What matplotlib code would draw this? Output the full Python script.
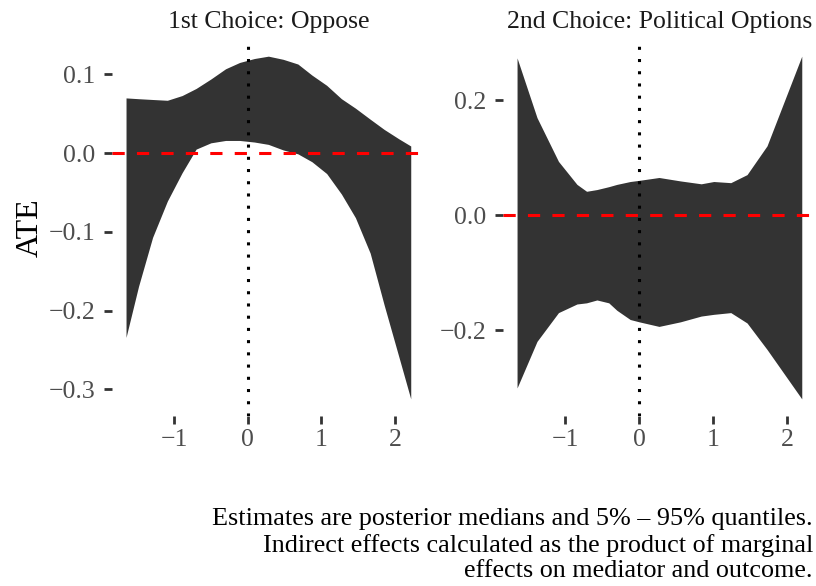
import numpy as np
import matplotlib
matplotlib.use("Agg")
import matplotlib.pyplot as plt

plt.rcParams['font.family'] = ['Liberation Serif', 'DejaVu Serif']

# posterior 5% / 95% bands of the indirect effect, by mediator value
panel_titles = ["1st Choice: Oppose", "2nd Choice: Political Options"]

oppose_x = [-1.65, -1.48, -1.29, -1.09, -0.89, -0.70, -0.50, -0.30, -0.11, 0.09, 0.28,
            0.48, 0.68, 0.87, 1.07, 1.27, 1.46, 1.66, 1.85, 2.05, 2.21]
oppose_hi = [0.070, 0.069, 0.068, 0.067, 0.073, 0.082, 0.094, 0.107, 0.115, 0.120, 0.123,
             0.119, 0.113, 0.099, 0.086, 0.069, 0.057, 0.043, 0.030, 0.018, 0.009]
oppose_lo = [-0.234, -0.169, -0.107, -0.061, -0.025, 0.005, 0.013, 0.016, 0.016, 0.014, 0.011,
             0.004, -0.001, -0.011, -0.026, -0.052, -0.082, -0.127, -0.193, -0.259, -0.312]

polit_x = [-1.65, -1.38, -1.09, -0.84, -0.71, -0.57, -0.41, -0.30, -0.12, 0.0, 0.27,
           0.56, 0.84, 1.01, 1.24, 1.46, 1.73, 2.20]
polit_hi = [0.274, 0.170, 0.094, 0.054, 0.042, 0.045, 0.050, 0.054, 0.059, 0.061, 0.066,
            0.060, 0.055, 0.059, 0.057, 0.071, 0.121, 0.277]
polit_lo = [-0.300, -0.219, -0.169, -0.154, -0.152, -0.147, -0.152, -0.165, -0.181, -0.185, -0.193,
            -0.185, -0.175, -0.172, -0.169, -0.187, -0.233, -0.319]

panels = [(oppose_x, oppose_lo, oppose_hi, [-0.3, -0.2, -0.1, 0.0, 0.1]),
          (polit_x, polit_lo, polit_hi, [-0.2, 0.0, 0.2])]
xticks = [-1, 0, 1, 2]

caption = ("Estimates are posterior medians and 5% \u2013 95% quantiles.\n"
           "Indirect effects calculated as the product of marginal\n"
           "effects on mediator and outcome.")

fig = plt.figure(figsize=(8.16, 5.86), dpi=100)
lefts = [0.137, 0.6162]
for i, (x, lo, hi, yt) in enumerate(panels):
    ax = fig.add_axes([lefts[i], 0.2901, 0.3838, 0.6433])
    ax.fill_between(x, lo, hi, color="#333333", linewidth=0, zorder=1)
    ax.margins(x=0.05, y=0.05)
    ax.axhline(0, color="red", linewidth=2.2, linestyle=(0, (4, 4)), zorder=2)
    ax.axvline(0, color="black", linewidth=2.2, linestyle=(0, (1, 3)), zorder=3)
    ax.set_xticks(xticks)
    ax.set_xticklabels([str(t) if t >= 0 else "\u2212" + str(-t) for t in xticks])
    ax.set_yticks(yt)
    ax.set_yticklabels(["%.1f" % v if v >= 0 else "\u2212%.1f" % -v for v in yt])
    for s in ax.spines.values():
        s.set_visible(False)
    ax.tick_params(axis="both", direction="out", length=6, width=2, color="#333333",
                   labelcolor="#4D4D4D", labelsize=18.5)
    ax.tick_params(axis="y", pad=6)
    ax.tick_params(axis="x", pad=3)
    ax.set_title(panel_titles[i], fontsize=18.5, pad=8, color="#1A1A1A")

fig.text(30 / 816, 1 - 228 / 586, "ATE", rotation=90, ha="center", va="center", fontsize=23)
fig.text(813 / 816, 1 - 545 / 586, caption, ha="right", va="center", multialignment="right",
         fontsize=18.8, linespacing=1.2)

fig.savefig("out.png", dpi=100)
